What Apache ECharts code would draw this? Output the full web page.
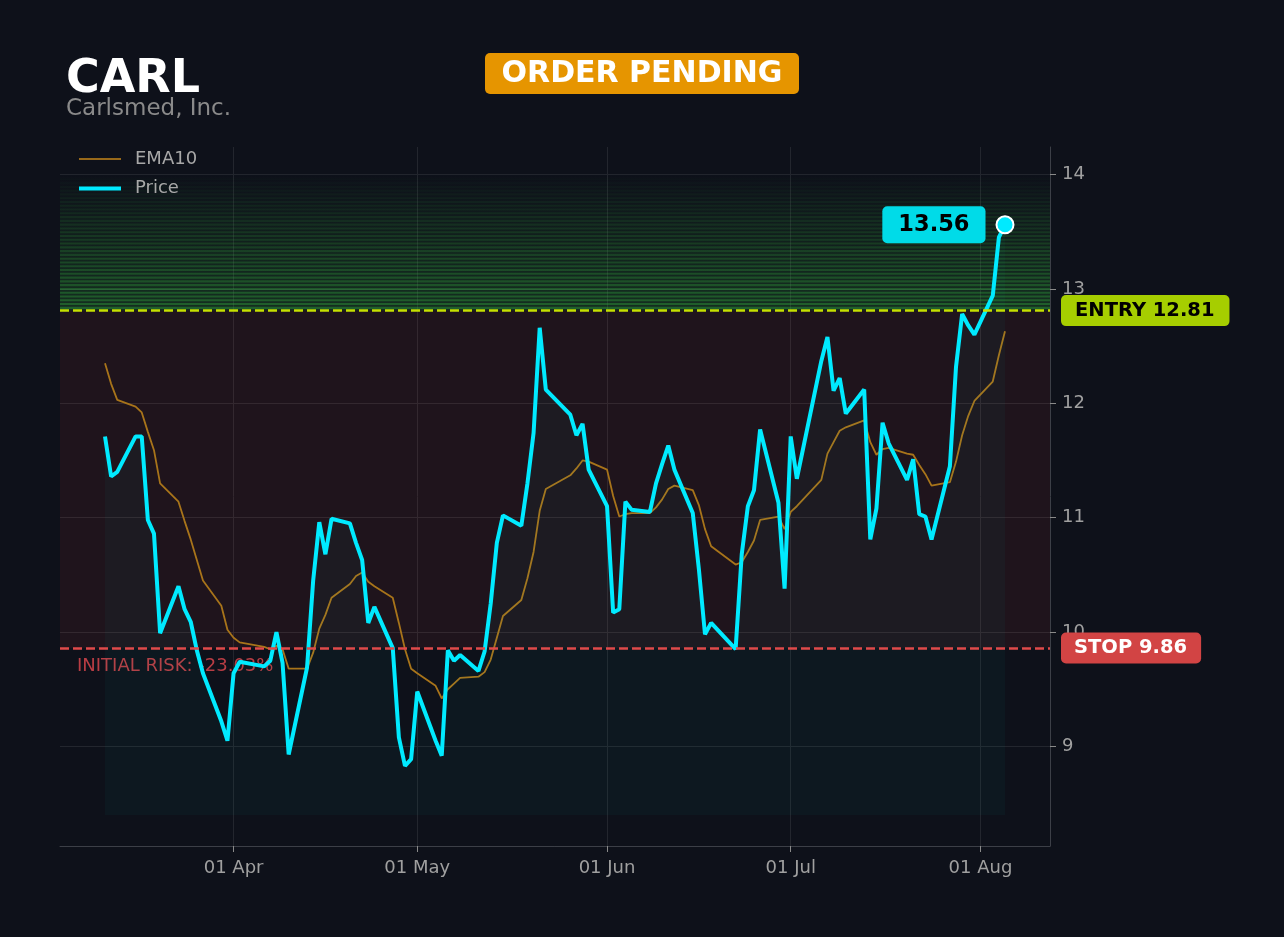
<!DOCTYPE html>
<html>
<head>
<meta charset="utf-8">
<script src="https://cdn.jsdelivr.net/npm/echarts@6/dist/echarts.min.js"></script>
<style>
html,body{margin:0;padding:0;background:#0e111a;}
#chart{width:1284px;height:937px;}
</style>
</head>
<body>
<div id="chart"></div>
<script>
// ---- data ----
const ticker = 'CARL';
const companyName = 'Carlsmed, Inc.';
const statusText = 'ORDER PENDING';
const entryPrice = 12.81;
const stopPrice = 9.86;
const initialRiskPct = -23.03;
const targetZoneTop = 14.0;
const yMin = 8.13;
const yMax = 14.24;
const areaBase = 8.40;
const yTickValues = [9, 10, 11, 12, 13, 14];
const xTickDates = ['2026-04-01', '2026-05-01', '2026-06-01', '2026-07-01', '2026-08-01'];
const monthNames = ['Jan','Feb','Mar','Apr','May','Jun','Jul','Aug','Sep','Oct','Nov','Dec'];

const dates = [
  '2026-03-11','2026-03-12','2026-03-13','2026-03-16','2026-03-17','2026-03-18','2026-03-19','2026-03-20',
  '2026-03-23','2026-03-24','2026-03-25','2026-03-26','2026-03-27','2026-03-30','2026-03-31',
  '2026-04-01','2026-04-02','2026-04-06','2026-04-07','2026-04-08','2026-04-09','2026-04-10',
  '2026-04-13','2026-04-14','2026-04-15','2026-04-16','2026-04-17','2026-04-20','2026-04-21',
  '2026-04-22','2026-04-23','2026-04-24','2026-04-27','2026-04-28','2026-04-29','2026-04-30',
  '2026-05-01','2026-05-04','2026-05-05','2026-05-06','2026-05-07','2026-05-08','2026-05-11',
  '2026-05-12','2026-05-13','2026-05-14','2026-05-15','2026-05-18','2026-05-19','2026-05-20',
  '2026-05-21','2026-05-22','2026-05-26','2026-05-27','2026-05-28','2026-05-29',
  '2026-06-01','2026-06-02','2026-06-03','2026-06-04','2026-06-05','2026-06-08','2026-06-09',
  '2026-06-10','2026-06-11','2026-06-12','2026-06-15','2026-06-16','2026-06-17','2026-06-18',
  '2026-06-22','2026-06-23','2026-06-24','2026-06-25','2026-06-26','2026-06-29','2026-06-30',
  '2026-07-01','2026-07-02','2026-07-06','2026-07-07','2026-07-08','2026-07-09','2026-07-10',
  '2026-07-13','2026-07-14','2026-07-15','2026-07-16','2026-07-17','2026-07-20','2026-07-21',
  '2026-07-22','2026-07-23','2026-07-24','2026-07-27','2026-07-28','2026-07-29','2026-07-30',
  '2026-07-31','2026-08-03','2026-08-04','2026-08-05'
];

const price = [
  11.71,11.36,11.40,11.71,11.71,10.98,10.86,9.99,10.40,10.20,10.09,9.84,9.64,9.22,9.05,
  9.64,9.74,9.70,9.75,10.00,9.73,8.93,9.69,10.45,10.96,10.68,10.99,10.95,10.78,10.63,10.08,10.22,9.86,9.08,8.83,8.89,
  9.48,9.05,8.92,9.84,9.75,9.80,9.66,9.83,10.25,10.78,11.02,10.93,11.30,11.74,12.66,12.12,11.90,11.72,11.82,11.42,
  11.10,10.17,10.20,11.14,11.07,11.05,11.30,11.47,11.63,11.42,11.04,10.55,9.98,10.08,9.85,10.68,11.10,11.24,11.77,11.13,10.38,
  11.71,11.34,12.37,12.58,12.11,12.22,11.91,12.12,10.81,11.08,11.83,11.65,11.33,11.51,11.03,11.01,10.81,11.45,12.32,12.78,12.68,12.60,
  12.94,13.45,13.56
];

const ema10 = [
  12.35,12.17,12.03,11.97,11.92,11.75,11.59,11.30,11.14,10.97,10.81,10.63,10.45,10.23,10.02,
  9.95,9.91,9.87,9.85,9.88,9.85,9.68,9.68,9.82,10.03,10.15,10.30,10.42,10.49,10.52,10.44,10.40,10.30,10.08,9.85,9.68,
  9.64,9.53,9.42,9.50,9.55,9.60,9.61,9.65,9.76,9.95,10.14,10.28,10.47,10.70,11.06,11.25,11.37,11.43,11.50,11.49,
  11.42,11.19,11.01,11.03,11.04,11.04,11.09,11.16,11.25,11.28,11.24,11.11,10.90,10.75,10.59,10.61,10.70,10.80,10.98,11.01,10.90,
  11.05,11.10,11.33,11.56,11.66,11.76,11.79,11.85,11.66,11.55,11.60,11.61,11.56,11.55,11.46,11.38,11.28,11.31,11.49,11.72,11.89,12.02,
  12.19,12.42,12.63
];

// ---- helpers ----
const FONT = 'DejaVu Sans';
function toTs(s){ const p = s.split('-'); return new Date(+p[0], +p[1]-1, +p[2]).getTime(); }
const ts = dates.map(toTs);
const span = ts[ts.length-1] - ts[0];
const xMin = ts[0] - span*0.05;
const xMax = ts[ts.length-1] + span*0.05;
const xTickValues = xTickDates.map(toTs);
function fmtDate(v){ const d = new Date(v); const dd = d.getDate(); return (dd<10?'0':'')+dd+' '+monthNames[d.getMonth()]; }

const priceData = ts.map((t,i)=>[t, price[i]]);
const emaData = ts.map((t,i)=>[t, ema10[i]]);
const lastIdx = price.length-1;

// target zone stripes (styling only)
const N = 36;
const step = (targetZoneTop - entryPrice)/N;
const zoneAreas = [];
zoneAreas.push([{yAxis: entryPrice, itemStyle:{color:{type:'linear',x:0,y:0,x2:0,y2:1,colorStops:[
  {offset:0,color:'rgba(50,180,60,0)'},{offset:1,color:'rgba(50,180,60,0.18)'}]}}}, {yAxis: targetZoneTop}]);
for (let i=0;i<N;i++){
  const lo = entryPrice + i*step;
  const a = 0.36*Math.pow(1 - i/N, 1.1);
  zoneAreas.push([{yAxis: lo + step*0.45, itemStyle:{color:'rgba(55,185,65,'+a.toFixed(3)+')'}}, {yAxis: lo + step}]);
}
zoneAreas.push([{yAxis: stopPrice, itemStyle:{color:'rgba(239,68,68,0.08)'}}, {yAxis: entryPrice}]);

const chart = echarts.init(document.getElementById('chart'), null, {renderer:'canvas'});

const option = {
  backgroundColor: '#0e111a',
  animation: false,
  textStyle: {fontFamily: FONT},
  grid: {left: 60, right: 234, top: 147, bottom: 91},
  legend: {
    left: 72, top: 145, orient: 'vertical', itemWidth: 42, itemHeight: 14, itemGap: 11.5,
    itemStyle: {opacity: 0},
    textStyle: {color: '#a8a8a8', fontSize: 18, fontFamily: FONT, padding: [0,0,0,9]},
    data: [
      {name: 'EMA10', lineStyle: {width: 2, color: '#98691a'}},
      {name: 'Price', lineStyle: {width: 4, color: '#00eaff'}}
    ]
  },
  xAxis: {
    type: 'value', min: xMin, max: xMax, scale: true,
    axisLine: {show: true, onZero: false, lineStyle: {color: '#3c3f47', width: 1}},
    axisTick: {show: true, length: 6, lineStyle: {color: '#8a8a8a'}, customValues: xTickValues},
    axisLabel: {customValues: xTickValues, formatter: fmtDate, color: '#a0a0a0', fontSize: 18, fontFamily: FONT, margin: 13},
    splitLine: {show: true, lineStyle: {color: '#23262e', width: 1}}
  },
  yAxis: {
    type: 'value', position: 'right', min: yMin, max: yMax, scale: true,
    axisLine: {show: true, onZero: false, lineStyle: {color: '#3c3f47', width: 1}},
    axisTick: {show: true, length: 6, lineStyle: {color: '#8a8a8a'}, customValues: yTickValues},
    axisLabel: {customValues: yTickValues, color: '#a0a0a0', fontSize: 18, fontFamily: FONT, margin: 12},
    splitLine: {show: true, lineStyle: {color: '#23262e', width: 1}}
  },
  series: [
    {
      name: 'EMA10', type: 'line', data: emaData, showSymbol: false, symbol: 'none', z: 2,
      lineStyle: {color: '#a8741a', width: 1.8},
      itemStyle: {color: '#a8741a'},
      markArea: {silent: true, label: {show: false}, data: zoneAreas}
    },
    {
      name: 'Price', type: 'line', data: priceData, showSymbol: false, symbol: 'none', z: 4,
      lineStyle: {color: '#00eaff', width: 4},
      itemStyle: {color: '#00eaff'},
      areaStyle: {origin: areaBase, color: 'rgba(10,215,210,0.05)'},
      markLine: {
        silent: true, symbol: 'none', animation: false,
        data: [
          {yAxis: entryPrice, lineStyle: {color: '#c5e000', width: 2.5, type: [9,4]},
           label: {show: true, position: 'end', distance: 11, formatter: 'ENTRY ' + entryPrice.toFixed(2),
             backgroundColor: '#a6ce00', color: '#000', fontWeight: 'bold', fontSize: 19.5, fontFamily: FONT,
             padding: [6,15,5,14], borderRadius: 5}},
          {yAxis: stopPrice, lineStyle: {color: '#e04a4a', width: 2.5, type: [9,4]},
           label: {show: true, position: 'end', distance: 11, formatter: 'STOP ' + stopPrice.toFixed(2),
             backgroundColor: '#d24444', color: '#fff', fontWeight: 'bold', fontSize: 19.5, fontFamily: FONT,
             padding: [6,14,5,13], borderRadius: 5}}
        ]
      },
      markPoint: {
        silent: true, animation: false,
        data: [{coord: [ts[lastIdx], price[lastIdx]], value: price[lastIdx]}],
        symbol: 'circle', symbolSize: 17,
        itemStyle: {color: '#00eaff', borderColor: '#ffffff', borderWidth: 2},
        label: {show: true, position: 'left', distance: 10, formatter: (p)=>p.value.toFixed(2),
          backgroundColor: '#00dbe8', color: '#000', fontWeight: 'bold', fontSize: 22.5, fontFamily: FONT,
          padding: [8,16,6,16], borderRadius: 5}
      }
    }
  ]
};

chart.setOption(option);

const stopY = chart.convertToPixel({yAxisIndex: 0}, stopPrice);
chart.setOption({
  graphic: [
    {id:'ticker', type:'text', x:66, y:80, z:10,
     style:{text: ticker, fill:'#ffffff', font:'bold 46px "DejaVu Sans"', textAlign:'left', textVerticalAlign:'middle', align:'left', verticalAlign:'middle'}},
    {id:'company', type:'text', x:66, y:109.5, z:10,
     style:{text: companyName, fill:'#8a8a8a', font:'23px "DejaVu Sans"', textAlign:'left', textVerticalAlign:'middle', align:'left', verticalAlign:'middle'}},
    {id:'badge', type:'rect', shape:{x:485, y:53, width:314, height:41, r:5}, z:10, style:{fill:'#e69500'}},
    {id:'badgeText', type:'text', x:642, y:74.5, z:11,
     style:{text: statusText, fill:'#ffffff', font:'bold 30px "DejaVu Sans"', textAlign:'center', textVerticalAlign:'middle', align:'center', verticalAlign:'middle'}},
    {id:'risk', type:'text', x:77, y:stopY + 18.5, z:1,
     style:{text: 'INITIAL RISK: ' + initialRiskPct.toFixed(2) + '%', fill:'#b93d44', font:'18px "DejaVu Sans"', textAlign:'left', textVerticalAlign:'middle', align:'left', verticalAlign:'middle'}}
  ]
});
</script>
</body>
</html>
